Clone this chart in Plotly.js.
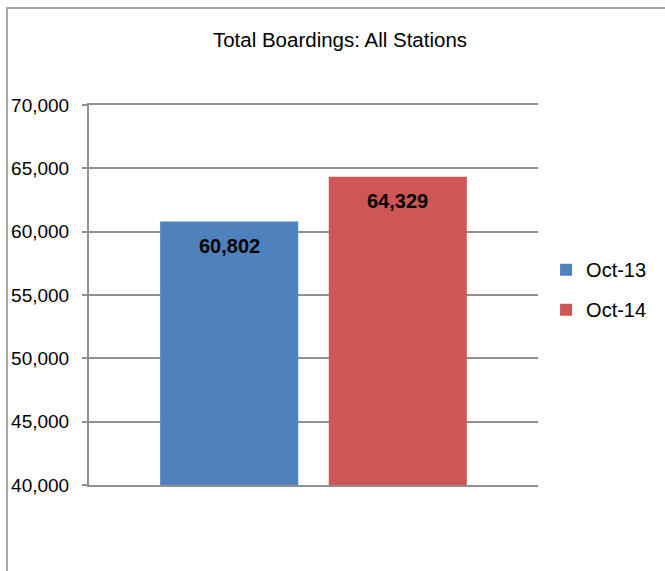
<!DOCTYPE html>
<html>
<head>
<meta charset="utf-8">
<script src="https://cdn.plot.ly/plotly-3.0.1.min.js"></script>
<style>
html,body{margin:0;padding:0;overflow:hidden;background:#fff;}
#chart{position:absolute;left:0;top:0;width:665px;height:571px;}
#frame{position:absolute;left:6px;top:7px;width:800px;height:700px;border-left:2px solid #a6a6a6;border-top:2px solid #a6a6a6;pointer-events:none;}
</style>
</head>
<body>
<div id="chart"></div>
<div id="frame"></div>
<script>
const category = ["All Stations"];
const seriesNames = ["Oct-13", "Oct-14"];
const seriesValues = [60802, 64329];
const seriesColors = ["#4F81BD", "#CE5755"];
const yTickVals = [40000, 45000, 50000, 55000, 60000, 65000, 70000];
const yTickText = ["40,000", "45,000", "50,000", "55,000", "60,000", "65,000", "70,000"];
const chartTitle = "Total Boardings: All Stations";

const traces = seriesNames.map((n, i) => ({
  type: "bar",
  name: n,
  legendgroup: n,
  x: category,
  y: [seriesValues[i]],
  marker: {color: seriesColors[i]},
  hoverinfo: "none"
}));

const groupShift = 84.3;
const annotations = seriesValues.map((v, i) => ({
  x: category[0],
  y: v,
  xref: "x",
  yref: "y",
  xshift: (i === 0 ? -1 : 1) * groupShift,
  yshift: -24,
  text: "<b>" + v.toLocaleString("en-US") + "</b>",
  showarrow: false,
  font: {family: "Liberation Sans, Arial, sans-serif", size: 20, color: "#000"}
}));

const gridCol = "#909090";
const layout = {
  width: 665,
  height: 571,
  margin: {l: 89, r: 127, t: 105, b: 86},
  paper_bgcolor: "#fff",
  plot_bgcolor: "#fff",
  font: {family: "Liberation Sans, Arial, sans-serif", size: 19, color: "#000"},
  title: {
    text: chartTitle,
    font: {size: 20.5, color: "#000"},
    x: (340 - 89) / 449, xref: "paper", xanchor: "center",
    y: 1 - 40/571, yref: "container", yanchor: "middle"
  },
  barmode: "group",
  bargap: 0.249,
  bargroupgap: 0.181,
  xaxis: {
    type: "category",
    showticklabels: false,
    showgrid: false,
    zeroline: false,
    showline: true,
    mirror: true,
    linecolor: gridCol,
    linewidth: 2,
    ticks: ""
  },
  yaxis: {
    range: [40000, 70000],
    tickvals: yTickVals,
    ticktext: yTickText,
    showgrid: true,
    gridcolor: gridCol,
    gridwidth: 2,
    zeroline: false,
    showline: true,
    linecolor: gridCol,
    linewidth: 2,
    ticks: "outside",
    ticklen: 5,
    tickcolor: gridCol,
    tickwidth: 2,
    ticklabelstandoff: 9,
    tickfont: {size: 19, color: "#000"}
  },
  showlegend: true,
  legend: {
    x: 1.018, xanchor: "left",
    y: 0.618, yanchor: "top",
    traceorder: "grouped",
    tracegroupgap: 11,
    font: {size: 20, color: "#000"},
    bgcolor: "rgba(0,0,0,0)"
  },
  annotations: annotations
};

Plotly.newPlot("chart", traces, layout, {displayModeBar: false, staticPlot: true});
</script>
</body>
</html>
